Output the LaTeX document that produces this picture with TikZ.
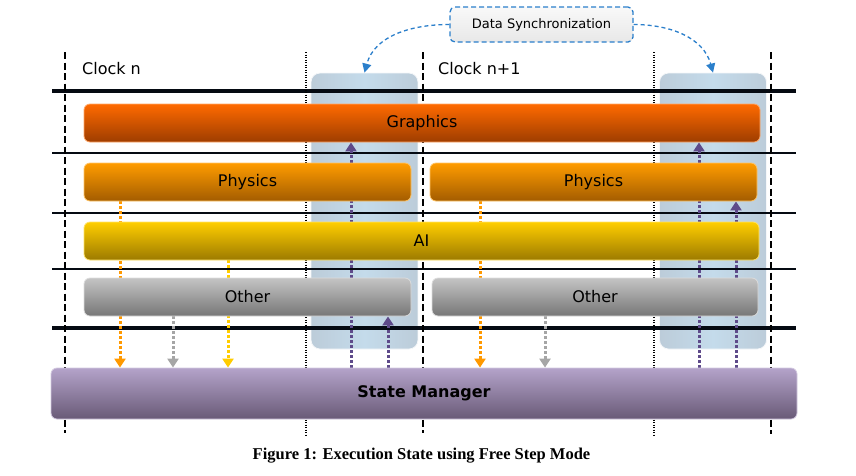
\documentclass[tikz,border=0pt]{standalone}
\usepackage{fontspec}
\setmainfont{DejaVu Sans}
\newfontfamily\capfont{Liberation Serif}
\usetikzlibrary{arrows.meta}
\pgfdeclarelayer{bgzero}
\pgfdeclarelayer{bgone}
\pgfsetlayers{bgzero,bgone,main}

\definecolor{gfxT}{HTML}{FF6A00}
\definecolor{gfxB}{HTML}{9E3D00}
\definecolor{physT}{HTML}{FF9C00}
\definecolor{physB}{HTML}{A35C00}
\definecolor{aiT}{HTML}{FFCE00}
\definecolor{aiB}{HTML}{9C7A00}
\definecolor{othT}{HTML}{C4C4C4}
\definecolor{othB}{HTML}{777777}
\definecolor{smT}{HTML}{B4A3CA}
\definecolor{smB}{HTML}{695A77}
\definecolor{syncE}{HTML}{BCCCD9}
\definecolor{syncM}{HTML}{C4DBEB}
\definecolor{purA}{HTML}{5E4A8A}
\definecolor{oraA}{HTML}{FF9900}
\definecolor{graA}{HTML}{A6A6A6}
\definecolor{yelA}{HTML}{FFCC00}
\definecolor{dsBlue}{HTML}{2B7FCB}
\definecolor{lineNavy}{HTML}{050A12}

\tikzset{
  bar/.style={rectangle, rounded corners=6pt, minimum height=38pt, inner sep=0pt,
    font=\fontsize{16}{19}\selectfont, text=black, line width=0.8pt},
  syncbox/.style={rectangle, rounded corners=9pt, inner sep=0pt, minimum width=107pt,
    minimum height=276pt, left color=syncE, right color=syncE, middle color=syncM,
    draw=white!85!syncE, line width=0.8pt},
  thickline/.style={line width=4pt, lineNavy},
  thinline/.style={line width=1.2pt, lineNavy},
  dashv/.style={line width=1.1pt, dash pattern=on 7pt off 3.5pt, black},
  dotv/.style={line width=1.1pt, dash pattern=on 1pt off 1.5pt, black},
  flow/.style={line width=3pt, dash pattern=on 3pt off 2pt,
    -{Triangle[width=11pt,length=9pt]}},
  syncarrow/.style={line width=1.3pt, dash pattern=on 4pt off 3pt, dsBlue,
    -{Triangle[width=9pt,length=9pt]}},
  clocklabel/.style={anchor=base west, inner sep=0pt, font=\fontsize{16}{19}\selectfont}
}

\begin{document}
\begin{tikzpicture}[x=1pt,y=-1pt]
\useasboundingbox (0,0) rectangle (856,475);

% bars
\node[bar, top color=gfxT, bottom color=gfxB, draw=gfxT!60!white, minimum width=676pt] (gfx) at (422,123) {Graphics};
\node[bar, top color=physT, bottom color=physB, draw=physT!60!white, minimum width=327pt] (phys1) at (247.5,182) {Physics};
\node[bar, top color=physT, bottom color=physB, draw=physT!60!white, minimum width=327pt] (phys2) at (593.5,182) {Physics};
\node[bar, top color=aiT, bottom color=aiB, draw=aiT!60!white, minimum width=675pt] (ai) at (421.5,241) {AI};
\node[bar, top color=othT, bottom color=othB, draw=othT!60!white, minimum width=327pt] (oth1) at (247.5,297) {Other};
\node[bar, top color=othT, bottom color=othB, draw=othT!60!white, minimum width=326pt] (oth2) at (595,297) {Other};
\node[bar, top color=smT, bottom color=smB, draw=smT!60!white, minimum width=746pt, minimum height=51pt,
  font=\bfseries\fontsize{16}{19}\selectfont] (sm) at (424,393.5) {State Manager};

% sync boxes and grid lines
\begin{pgfonlayer}{bgzero}
\node[syncbox] (sync1) at (364.5,211) {};
\node[syncbox] (sync2) at (713,211) {};
\draw[thickline] (52,91) -- (796,91);
\draw[thinline] (52,153) -- (796,153);
\draw[thinline] (52,213) -- (796,213);
\draw[thinline] (52,269) -- (796,269);
\draw[thickline] (52,328) -- (796,328);
\draw[dashv] (65,52) -- (65,433);
\draw[dashv] (423,52) -- (423,433);
\draw[dashv] (771,52) -- (771,434);
\draw[dotv] (306,52) -- (306,437);
\draw[dotv] (654,52) -- (654,437);
\end{pgfonlayer}

% data flow arrows
\begin{pgfonlayer}{bgone}
\draw[flow, oraA] (phys1.south -| 120,0) -- (sm.north -| 120,0);
\draw[flow, graA] (oth1.south -| 173,0) -- (sm.north -| 173,0);
\draw[flow, yelA] (ai.south -| 228,0) -- (sm.north -| 228,0);
\draw[flow, purA] (sm.north -| 351,0) -- (gfx.south -| 351,0);
\draw[flow, purA] (sm.north -| 388,0) -- (oth1.south -| 388,0);
\draw[flow, oraA] (phys2.south -| 480,0) -- (sm.north -| 480,0);
\draw[flow, graA] (oth2.south -| 545,0) -- (sm.north -| 545,0);
\draw[flow, purA] (sm.north -| 699,0) -- (gfx.south -| 699,0);
\draw[flow, purA] (sm.north -| 736,0) -- (phys2.south -| 736,0);
\end{pgfonlayer}

% clock labels
\node[clocklabel] (clk1) at (82,74) {Clock n};
\node[clocklabel] (clk2) at (438,74) {Clock n+1};

% data synchronization
\node[rectangle, rounded corners=5pt, minimum width=183pt, minimum height=35pt, inner sep=0pt,
  top color=white!95!gray, bottom color=white!82!gray, draw=dsBlue, line width=1.3pt,
  dash pattern=on 5pt off 3pt, font=\fontsize{13}{16}\selectfont] (ds) at (541.5,24.5) {Data Synchronization};
\draw[syncarrow] (ds.west) to[out=180, in=75] (sync1.north);
\draw[syncarrow] (ds.east) to[out=0, in=105] (sync2.north);

% caption
\node[anchor=base, inner sep=0pt, font=\capfont\bfseries\fontsize{16.5}{20}\selectfont] (cap) at (421.5,459)
  {Figure 1: Execution State using Free Step Mode};
\end{tikzpicture}
\end{document}
